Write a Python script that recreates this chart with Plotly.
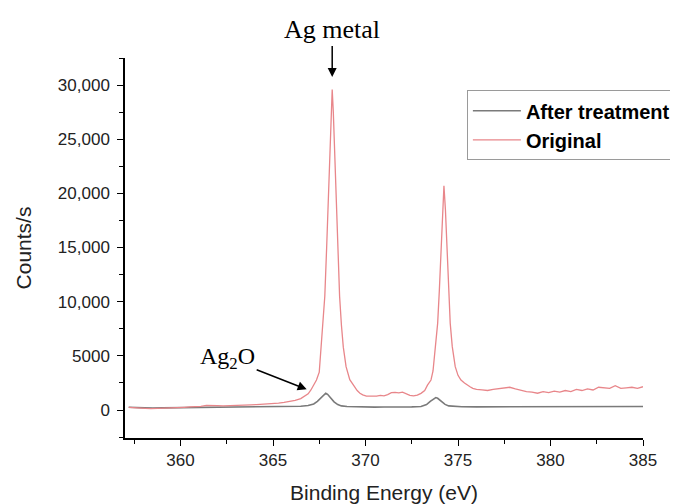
import plotly.graph_objects as go

# ---- data ----
orig_x = [357.2, 357.5, 357.8, 358.1, 358.4, 358.7, 359.0, 359.3, 359.6, 359.9,
          360.2, 360.5, 360.8, 361.1, 361.4, 361.7, 362.0, 362.3, 362.6, 362.9,
          363.2, 363.5, 363.8, 364.1, 364.4, 364.7, 365.0, 365.3, 365.6, 365.9,
          366.2, 366.5, 366.7, 366.9, 367.05, 367.2, 367.35, 367.5, 367.6, 367.7,
          367.8, 367.9, 368.0, 368.08, 368.14, 368.2, 368.26, 368.32, 368.4, 368.5,
          368.6, 368.7, 368.8, 368.95, 369.15, 369.35, 369.55, 369.7, 369.85, 370.05,
          370.2, 370.4, 370.6, 370.8, 371.0, 371.2, 371.4, 371.6, 371.8, 372.0,
          372.2, 372.4, 372.6, 372.8, 373.0, 373.2, 373.35, 373.54, 373.65, 373.79,
          373.9, 373.99, 374.08, 374.16, 374.24, 374.32, 374.4, 374.49, 374.58, 374.69,
          374.85, 375.0, 375.16, 375.35, 375.5, 375.65, 375.8, 376.0, 376.3, 376.6,
          376.9, 377.2, 377.5, 377.8, 378.1, 378.4, 378.7, 379.0, 379.3, 379.6,
          379.9, 380.2, 380.5, 380.8, 381.1, 381.4, 381.7, 382.0, 382.3, 382.6,
          382.9, 383.2, 383.5, 383.8, 384.1, 384.4, 384.7, 385.0]
orig_y = [250, 200, 180, 150, 120, 130, 160, 200, 180, 220,
          250, 280, 300, 330, 420, 380, 400, 390, 420, 400,
          440, 460, 480, 500, 520, 560, 600, 640, 700, 780,
          880, 1050, 1250, 1500, 1850, 2300, 2770, 3500, 5800, 7800,
          10500, 15000, 20000, 24300, 27500, 29600, 27500, 24300, 20000, 15000,
          10500, 7800, 5800, 4000, 2800, 2300, 1800, 1550, 1400, 1290,
          1300, 1250, 1280, 1350, 1300, 1420, 1600, 1620, 1580, 1650,
          1500, 1350, 1300, 1380, 1540, 1800, 2300, 2770, 3600, 5850,
          8000, 11000, 15000, 18500, 20700, 18500, 15000, 11000, 8000, 5850,
          4000, 3200, 2770, 2500, 2300, 2150, 2000, 1900, 1850, 1800,
          1900, 1950, 2000, 2100, 1950, 1800, 1700, 1650, 1550, 1700,
          1600, 1750, 1650, 1800, 1700, 1900, 1800, 1950, 1850, 2100,
          2050, 2000, 2250, 2000, 2050, 2100, 2000, 2150]

treat_x = [357.2, 357.6, 358.0, 358.5, 359.0, 359.5, 360.0, 360.5, 361.0, 361.5,
           362.0, 362.5, 363.0, 363.5, 364.0, 364.5, 365.0, 365.5, 366.0, 366.5,
           366.9, 367.2, 367.4, 367.6, 367.75, 367.85, 367.95, 368.1, 368.3, 368.5,
           368.7, 369.0, 369.5, 370.0, 370.5, 371.0, 371.5, 372.0, 372.5, 373.0,
           373.3, 373.5, 373.7, 373.8, 373.9, 374.1, 374.3, 374.5, 374.8, 375.2,
           376.0, 377.0, 378.0, 379.0, 380.0, 381.0, 382.0, 383.0, 384.0, 385.0]
treat_y = [250, 220, 180, 170, 200, 210, 200, 230, 220, 240,
           230, 250, 240, 260, 260, 280, 280, 300, 310, 350,
           420, 560, 800, 1150, 1450, 1550, 1450, 1150, 750, 500,
           380, 320, 290, 280, 270, 280, 270, 280, 290, 330,
           500, 800, 1050, 1150, 1080, 800, 520, 380, 320, 300,
           290, 300, 290, 300, 310, 300, 310, 320, 310, 320]

y_tickvals = [0, 5000, 10000, 15000, 20000, 25000, 30000]
y_ticktext = ["0", "5000", "10,000", "15,000", "20,000", "25,000", "30,000"]
x_tickvals = [360, 365, 370, 375, 380, 385]

SANS = "Arial, Liberation Sans, sans-serif"
SERIF = "Times New Roman, Liberation Serif, serif"

fig = go.Figure()
fig.add_trace(go.Scatter(x=treat_x, y=treat_y, mode="lines", name="After treatment",
                         line=dict(color="#7a7a7a", width=1.6)))
fig.add_trace(go.Scatter(x=orig_x, y=orig_y, mode="lines", name="Original",
                         line=dict(color="#e8868a", width=1.3)))

# page body adds an 8px offset, so the figure is 8px smaller and margins reduced
fig.update_layout(
    width=670, height=496,
    paper_bgcolor="white", plot_bgcolor="white",
    margin=dict(l=117, r=35, t=50, b=66, autoexpand=False),
    font=dict(family=SANS, size=17, color="#222"),
    showlegend=True,
    legend=dict(x=0.66, y=0.915, xanchor="left", yanchor="top",
                bordercolor="#9a9a9a", borderwidth=1, bgcolor="white",
                font=dict(family=SANS, size=20, color="black", weight="bold"),
                tracegroupgap=0, itemwidth=48),
    xaxis=dict(range=[357, 385], tickvals=x_tickvals, showline=True, linecolor="black",
               linewidth=1.5, ticks="outside", ticklen=6, tickwidth=1.2, tickcolor="black",
               showgrid=False, zeroline=False, mirror=False,
               minor=dict(dtick=2.5, tick0=357.5, ticks="outside", ticklen=4, tickwidth=1, tickcolor="black"),
               title=dict(text="Binding Energy (eV)", font=dict(size=21, family=SANS, color="#222"), standoff=17)),
    yaxis=dict(range=[-2585, 32500], tickvals=y_tickvals, ticktext=y_ticktext, showline=True,
               linecolor="black", linewidth=1.5, ticks="outside", ticklen=6, tickwidth=1.2,
               tickcolor="black", showgrid=False, zeroline=False, ticklabelstandoff=4,
               minor=dict(dtick=2500, tick0=0, ticks="outside", ticklen=4, tickwidth=1, tickcolor="black"),
               title=dict(text="Counts/s", font=dict(size=21, family=SANS, color="#222"), standoff=20)),
)

# Annotations (text with arrow pointing to the peak)
fig.add_annotation(xref="x", yref="y", x=368.2, y=30750, ax=0, ay=-47,
                   text="Ag metal", showarrow=True, arrowhead=2, arrowsize=1.2,
                   arrowwidth=1.5, arrowcolor="black",
                   font=dict(family=SERIF, size=26, color="black"))
fig.add_annotation(xref="x", yref="y", x=366.82, y=1910, ax=-79, ay=-31,
                   text="Ag<sub>2</sub>O", showarrow=True, arrowhead=2, arrowsize=1.2,
                   arrowwidth=1.5, arrowcolor="black",
                   font=dict(family=SERIF, size=24, color="black"))

fig.write_html("out.html")
